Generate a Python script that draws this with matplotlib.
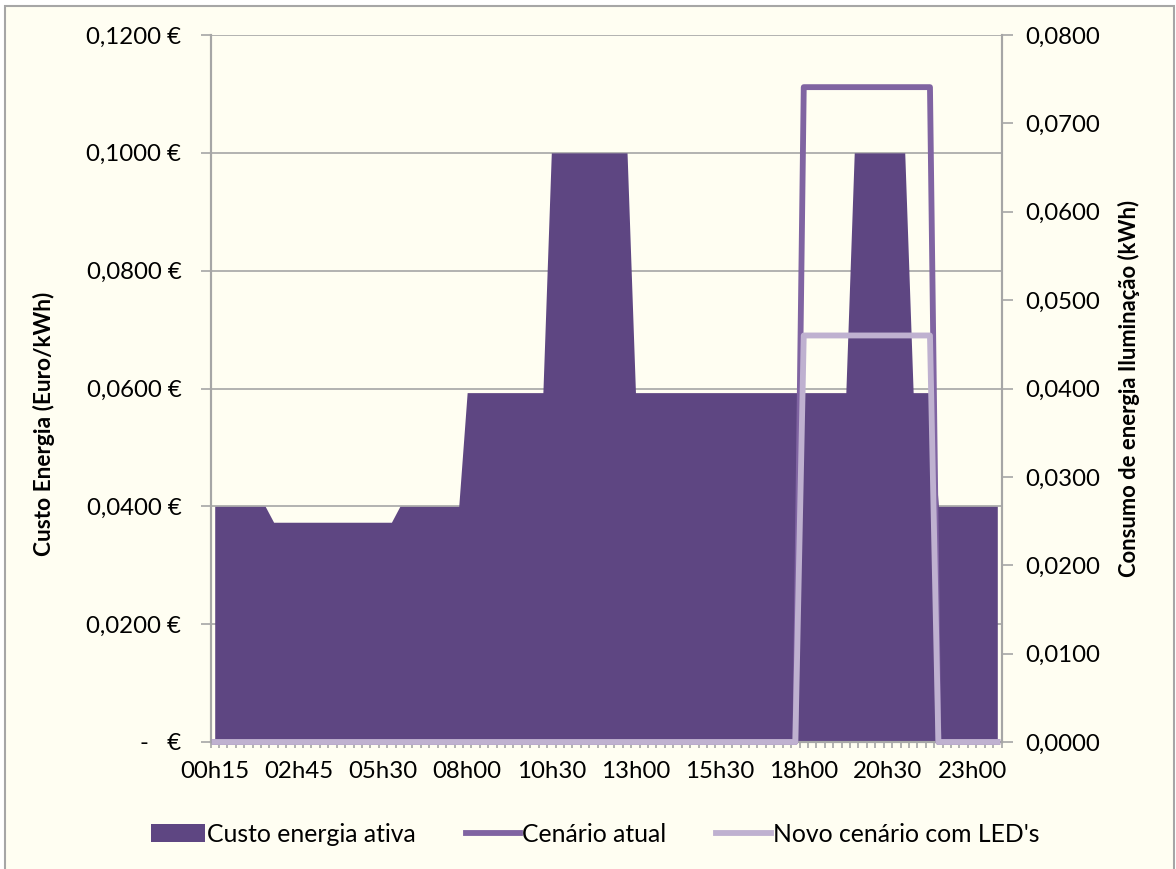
# Custo da energia ativa e consumo de iluminação ao longo do dia
import matplotlib
matplotlib.use("Agg")
import matplotlib.pyplot as plt
from matplotlib.patches import Rectangle, Patch
from matplotlib.lines import Line2D

plt.rcParams["font.family"] = ["Lato", "DejaVu Sans"]

# eixo x: 94 intervalos de 15 min, etiqueta a cada 10
tick_pos = [0, 10, 20, 30, 40, 50, 60, 70, 80, 90]
tick_labels = ["00h15", "02h45", "05h30", "08h00", "10h30",
               "13h00", "15h30", "18h00", "20h30", "23h00"]

# custo energia ativa (€/kWh), um valor por intervalo
custo = ([0.0400] * 7 + [0.0373] * 15 + [0.0400] * 8 + [0.0593] * 10
         + [0.1000] * 10 + [0.0593] * 26 + [0.1000] * 7 + [0.0593] * 3
         + [0.0400] * 8)

# consumo de iluminação (kWh)
cenario_atual = [0.0] * 70 + [0.0741] * 16 + [0.0] * 8
cenario_led = [0.0] * 70 + [0.0460] * 16 + [0.0] * 8

x = list(range(len(custo)))

COR_AREA = "#5E4682"
COR_ATUAL = "#8064A2"
COR_LED = "#BFB1D0"
FUNDO = "#FFFEF2"
CINZA = "#A6A6A6"
FS = 17.3

fig = plt.figure(figsize=(11.76, 8.69), dpi=100, facecolor="white")
fig.patches.append(Rectangle((5 / 1176, -0.01), 1169 / 1176, (869 - 6) / 869 + 0.01,
                             transform=fig.transFigure, facecolor=FUNDO,
                             edgecolor=CINZA, linewidth=1.5, zorder=-10))

ax = fig.add_axes([210.5 / 1176, 127 / 869, 791 / 1176, 707 / 869])
ax.set_facecolor(FUNDO)
ax.fill_between(x, custo, 0, color=COR_AREA, linewidth=0, zorder=2)
ax.set_xlim(-0.5, len(custo) - 0.5)
ax.set_ylim(0, 0.12)
ax.set_axisbelow(True)

left_ticks = [0, 0.02, 0.04, 0.06, 0.08, 0.10, 0.12]
left_labels = ["-   €"] + [f"{v:.4f} €".replace(".", ",") for v in left_ticks[1:]]
ax.set_yticks(left_ticks)
ax.set_yticklabels(left_labels, fontsize=FS)
ax.yaxis.grid(True, color=CINZA, linewidth=1.2)
ax.tick_params(axis="y", length=7, width=1.2, color=CINZA, pad=14)

ax.set_xticks(tick_pos)
ax.set_xticklabels(tick_labels, fontsize=FS)
ax.set_xticks([i - 0.5 for i in range(len(custo) + 1)], minor=True)
ax.tick_params(axis="x", which="major", length=0, pad=14)
ax.tick_params(axis="x", which="minor", length=4, width=1.2, color=CINZA)

for side in ["left", "right", "bottom"]:
    ax.spines[side].set_color(CINZA)
    ax.spines[side].set_linewidth(1.5)
ax.spines["top"].set_visible(False)

ax.set_ylabel("Custo Energia (Euro/kWh)", fontsize=16.3, fontweight="bold")
ax.yaxis.set_label_coords(-0.196, 0.45)

ax2 = ax.twinx()
ax2.plot(x, cenario_atual, color=COR_ATUAL, linewidth=4.2,
         solid_joinstyle="round", clip_on=False, zorder=3)
ax2.plot(x, cenario_led, color=COR_LED, linewidth=4.2,
         solid_joinstyle="round", clip_on=False, zorder=4)
ax2.set_ylim(0, 0.08)
right_ticks = [i * 0.01 for i in range(9)]
ax2.set_yticks(right_ticks)
ax2.set_yticklabels([f"{v:.4f}".replace(".", ",") for v in right_ticks], fontsize=FS)
ax2.tick_params(axis="y", length=8, width=1.2, color=CINZA, pad=9)
for side in ["left", "right", "bottom"]:
    ax2.spines[side].set_color(CINZA)
    ax2.spines[side].set_linewidth(1.5)
ax2.spines["top"].set_visible(False)
ax2.set_ylabel("Consumo de energia Iluminação (kWh)", fontsize=15.8, fontweight="bold")
ax2.yaxis.set_label_coords(1.147, 0.5)

handles = [
    Patch(facecolor=COR_AREA, edgecolor="none"),
    Line2D([], [], color=COR_ATUAL, linewidth=4.2),
    Line2D([], [], color=COR_LED, linewidth=4.2),
]
labels = ["Custo energia ativa", "Cenário atual", "Novo cenário com LED's"]
fig.legend(handles, labels, loc="center", bbox_to_anchor=(595 / 1176, 35 / 869),
           ncol=3, frameon=False, fontsize=17.8, handlelength=2.2,
           handletextpad=0.1, columnspacing=2.0)

fig.savefig("out.png", dpi=100, facecolor="white")
